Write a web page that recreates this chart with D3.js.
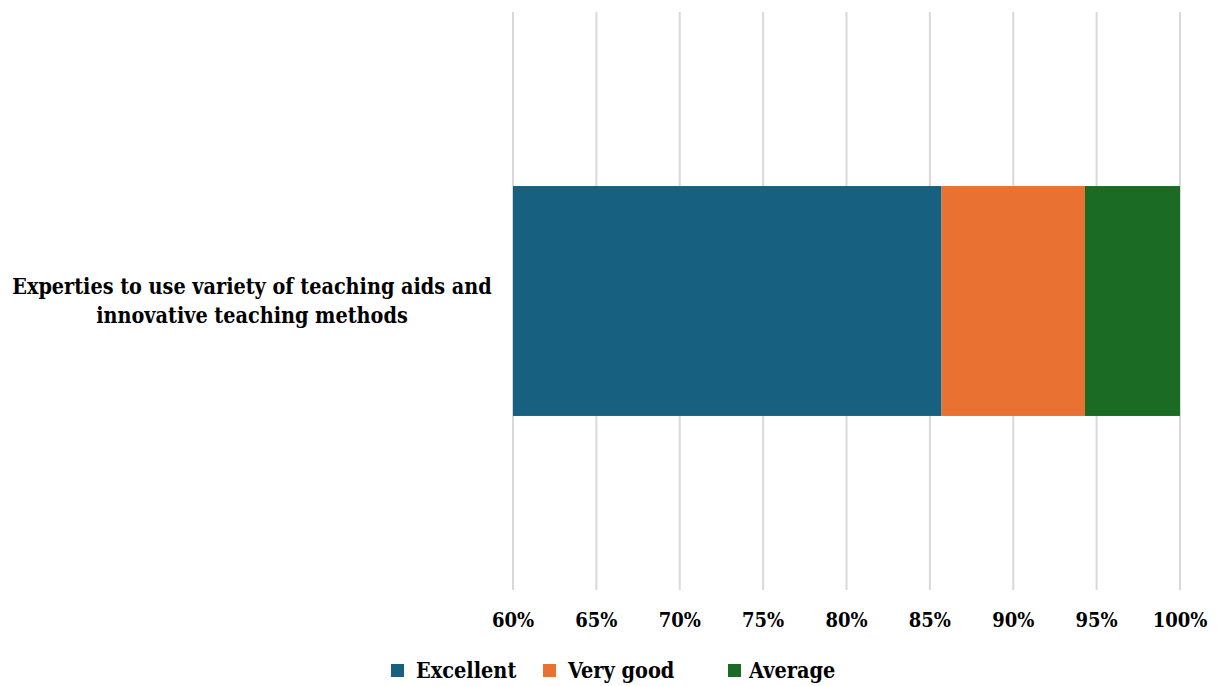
<!DOCTYPE html>
<html>
<head>
<meta charset="utf-8">
<script src="https://cdn.jsdelivr.net/npm/d3@7"></script>
<style>
  body { margin: 0; background: #fff; }
  text { font-family: "DejaVu Serif Condensed", "DejaVu Serif", serif; font-stretch: condensed; font-weight: bold; fill: #000; }
</style>
</head>
<body>
<svg id="chart" width="1222" height="686"></svg>
<script>
// data
const categories = ["Experties to use variety of teaching aids and innovative teaching methods"];
const categoryLines = [["Experties to use variety of teaching aids and", "innovative teaching methods"]];
const seriesNames = ["Excellent", "Very good", "Average"];
const excellent = [85.7];
const veryGood = [8.6];
const average = [5.7];
const tickValues = [60, 65, 70, 75, 80, 85, 90, 95, 100];
const colors = ["#17607f", "#e97132", "#1b6b25"];

const svg = d3.select("#chart");

const plotLeft = 513, plotRight = 1180, plotTop = 12, plotBottom = 590;

const x = d3.scaleLinear().domain([60, 100]).range([plotLeft, plotRight]);
const y = d3.scaleBand().domain(categories).range([plotTop, plotBottom]).paddingOuter(0.757);

// gridlines
svg.append("g")
  .selectAll("line")
  .data(tickValues)
  .enter()
  .append("line")
  .attr("x1", d => x(d))
  .attr("x2", d => x(d))
  .attr("y1", plotTop)
  .attr("y2", plotBottom)
  .attr("stroke", "#d9d9d9")
  .attr("stroke-width", 2);

// stack data
const rows = categories.map((c, i) => ({
  cat: c,
  "Excellent": excellent[i],
  "Very good": veryGood[i],
  "Average": average[i]
}));
const stack = d3.stack().keys(seriesNames)(rows);

svg.append("g")
  .selectAll("g")
  .data(stack)
  .enter()
  .append("g")
  .attr("fill", (d, i) => colors[i])
  .selectAll("rect")
  .data(d => d)
  .enter()
  .append("rect")
  .attr("x", d => x(Math.max(60, d[0])))
  .attr("width", d => x(Math.min(100, d[1])) - x(Math.max(60, d[0])))
  .attr("y", d => y(d.data.cat))
  .attr("height", y.bandwidth());

// x axis labels
svg.append("g")
  .selectAll("text")
  .data(tickValues)
  .enter()
  .append("text")
  .attr("x", d => x(d))
  .attr("y", 627)
  .attr("text-anchor", "middle")
  .style("font-size", "20px")
  .text(d => d + "%");

// category label
categories.forEach((c, i) => {
  const cy = y(c) + y.bandwidth() / 2;
  const lines = categoryLines[i];
  const t = svg.append("text")
    .attr("text-anchor", "middle")
    .style("font-size", "21.4px");
  lines.forEach((ln, j) => {
    t.append("tspan")
      .attr("x", 252)
      .attr("y", cy - 7 + j * 29)
      .text(ln);
  });
});

// legend
const legendX = [391, 543, 728];
const legend = svg.append("g")
  .selectAll("g")
  .data(seriesNames)
  .enter()
  .append("g")
  .attr("transform", (d, i) => `translate(${legendX[i]},0)`);
legend.append("rect")
  .attr("x", 0)
  .attr("y", 664)
  .attr("width", 13)
  .attr("height", 13)
  .attr("fill", (d, i) => colors[i]);
legend.append("text")
  .attr("x", (d, i) => i === 2 ? 21 : 25)
  .attr("y", 678)
  .style("font-size", "21.5px")
  .text(d => d);
</script>
</body>
</html>
